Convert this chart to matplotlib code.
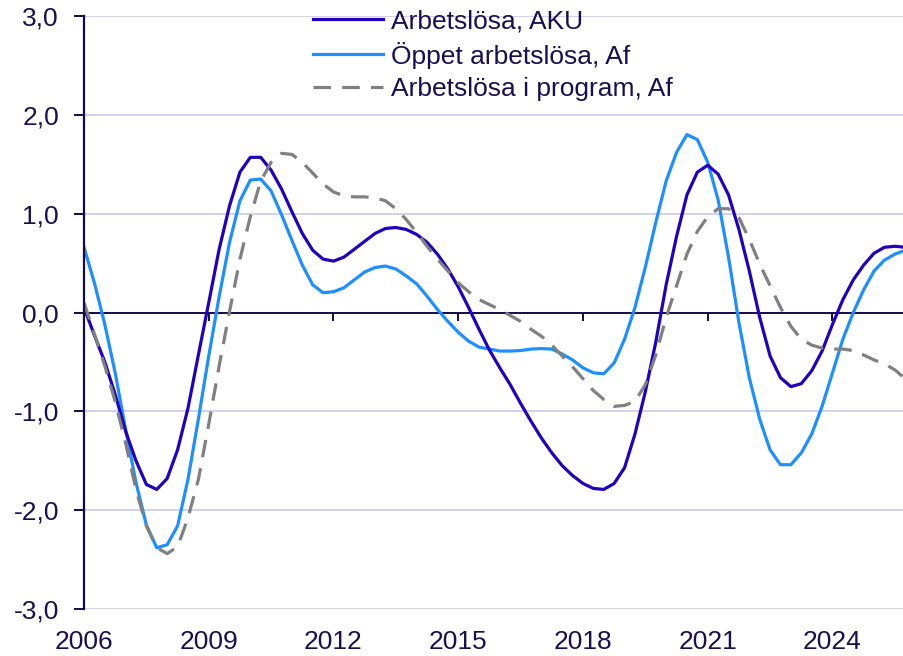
import numpy as np
import matplotlib
matplotlib.use("Agg")
import matplotlib.pyplot as plt

# kvartalsdata 2006K1 - 2025K4
aku = [0.05, -0.23, -0.50, -0.83, -1.20, -1.50, -1.74, -1.79, -1.68, -1.39,
       -0.97, -0.43, 0.10, 0.64, 1.08, 1.42, 1.57, 1.57, 1.44, 1.25,
       1.02, 0.80, 0.63, 0.54, 0.52, 0.56, 0.64, 0.72, 0.80, 0.85,
       0.86, 0.84, 0.79, 0.71, 0.59, 0.44, 0.26, 0.05, -0.17, -0.38,
       -0.56, -0.73, -0.92, -1.10, -1.27, -1.42, -1.55, -1.65, -1.73, -1.78,
       -1.79, -1.73, -1.57, -1.23, -0.80, -0.30, 0.28, 0.77, 1.19, 1.42,
       1.49, 1.40, 1.19, 0.84, 0.42, -0.05, -0.44, -0.66, -0.75, -0.72,
       -0.59, -0.39, -0.12, 0.13, 0.33, 0.48, 0.60, 0.66, 0.67, 0.66]

oppet = [0.66, 0.30, -0.12, -0.61, -1.18, -1.72, -2.15, -2.38, -2.35, -2.16,
         -1.69, -1.08, -0.44, 0.16, 0.71, 1.13, 1.34, 1.35, 1.23, 0.99,
         0.73, 0.48, 0.28, 0.20, 0.21, 0.25, 0.33, 0.41, 0.455, 0.47,
         0.44, 0.37, 0.29, 0.165, 0.03, -0.09, -0.20, -0.29, -0.35, -0.37,
         -0.39, -0.39, -0.385, -0.37, -0.365, -0.37, -0.42, -0.48, -0.56, -0.61,
         -0.62, -0.51, -0.27, 0.05, 0.46, 0.91, 1.33, 1.62, 1.80, 1.75,
         1.52, 1.14, 0.56, -0.10, -0.66, -1.08, -1.39, -1.54, -1.54, -1.42,
         -1.23, -0.95, -0.61, -0.27, 0.00, 0.23, 0.42, 0.53, 0.59, 0.63]

program = [0.10, -0.22, -0.54, -0.90, -1.32, -1.79, -2.16, -2.38, -2.44, -2.37,
           -2.08, -1.69, -1.13, -0.54, 0.01, 0.54, 0.97, 1.33, 1.52, 1.61,
           1.60, 1.52, 1.41, 1.30, 1.22, 1.18, 1.17, 1.17, 1.16, 1.13,
           1.05, 0.94, 0.81, 0.67, 0.54, 0.42, 0.30, 0.21, 0.13, 0.08,
           0.03, -0.03, -0.09, -0.17, -0.24, -0.33, -0.44, -0.55, -0.67, -0.79,
           -0.88, -0.95, -0.94, -0.90, -0.73, -0.43, -0.05, 0.27, 0.59, 0.82,
           0.97, 1.05, 1.05, 0.96, 0.74, 0.49, 0.27, 0.05, -0.14, -0.27,
           -0.33, -0.36, -0.37, -0.37, -0.385, -0.43, -0.48, -0.52, -0.58, -0.67]

labels = ["Arbetslösa, AKU", "Öppet arbetslösa, Af", "Arbetslösa i program, Af"]
x_ticks = [2006, 2009, 2012, 2015, 2018, 2021, 2024]
y_ticks = [-3, -2, -1, 0, 1, 2, 3]

t = 2006 + np.arange(len(aku)) / 4.0

navy = "#140a46"
txt = "#1a1050"
fs = 19
plt.rcParams['font.family'] = ['Liberation Sans', 'DejaVu Sans']

fig = plt.figure(figsize=(9.04, 6.56), dpi=100)
ax = fig.add_axes([84/904, 1 - 609/656, 1 - 84/904, (609 - 16)/656])

ax.plot(t, aku, color="#2200c0", lw=2.3, label=labels[0], zorder=4)
ax.plot(t, oppet, color="#1e8fff", lw=2.3, label=labels[1], zorder=3)
ax.plot(t, program, color="#808080", lw=2.3, dashes=(5.5, 3.5), label=labels[2], zorder=5)

ax.set_xlim(2006, 2025.72)
ax.set_ylim(-3, 3)

for v in y_ticks:
    if v != 0:
        ax.axhline(v, color="#d2d2f0", lw=1.4, zorder=1)
ax.axhline(0, color=navy, lw=1.4, zorder=2)

for s in ['top', 'right']:
    ax.spines[s].set_visible(False)
ax.spines['left'].set_color(navy)
ax.spines['left'].set_linewidth(1.6)
ax.spines['left'].set_zorder(6)

# x-axeln ligger vid noll, etiketterna längst ner
ax.spines['bottom'].set_position(('data', 0))
ax.spines['bottom'].set_visible(False)
ax.set_xticks(x_ticks)
ax.tick_params(axis='x', direction='out', length=6, width=1.4, color=navy,
               labelbottom=False)

sec = ax.secondary_xaxis('bottom')
sec.set_xticks(x_ticks)
sec.set_xticklabels([str(x) for x in x_ticks])
sec.spines['bottom'].set_visible(False)
sec.tick_params(axis='x', length=0, pad=15, labelsize=fs, labelcolor=txt)

ax.set_yticks(y_ticks)
ax.set_yticklabels([("%.1f" % v).replace(".", ",") for v in y_ticks])
ax.tick_params(axis='y', direction='out', length=7, width=1.4, color=navy,
               labelsize=fs, labelcolor=txt, pad=11)

leg = ax.legend(loc='upper left', bbox_to_anchor=(0.279, 1.011), frameon=False,
                fontsize=fs, handlelength=2.65, handletextpad=0.3,
                labelspacing=0.31, borderpad=0, borderaxespad=0)
for tx in leg.get_texts():
    tx.set_color(txt)

fig.savefig("out.png", dpi=100)
